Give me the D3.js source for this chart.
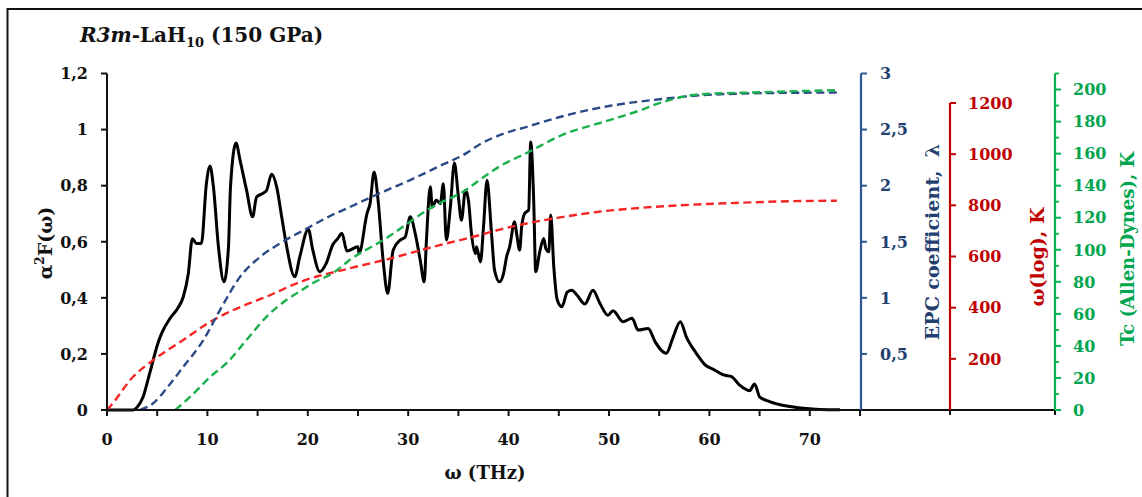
<!DOCTYPE html>
<html><head><meta charset="utf-8">
<script src="https://cdn.jsdelivr.net/npm/d3@7"></script>
<style>
html,body{margin:0;padding:0;background:#fff;}
svg{display:block;font-family:"DejaVu Serif",serif;font-weight:bold;}
</style></head>
<body>
<svg id="chart" width="1142" height="497"></svg>
<script>
// ---------- data ----------
const a2fFreq = [0,2.6,3.0,3.6,4.1,4.6,5.0,5.45,6.3,7.0,7.6,8.1,8.5,8.9,9.4,9.9,10.26,10.6,11.1,11.65,12.1,12.3,12.85,13.25,13.9,14.5,14.9,15.6,15.9,16.4,16.9,17.4,17.9,18.7,19.2,20.05,20.5,21.2,21.8,22.5,23.0,23.4,23.9,25.0,25.1,25.9,26.2,26.6,27.0,27.5,27.96,28.5,29.2,29.7,30.2,30.7,31.2,31.6,31.8,32.2,32.4,32.8,33.2,33.5,33.8,34.2,34.6,35.0,35.3,35.7,36.0,36.3,36.7,36.8,37.2,37.5,37.85,38.3,38.6,39.1,39.5,39.8,40.1,40.6,40.8,41.1,41.3,41.6,42.0,42.2,42.5,42.7,43.1,43.5,43.7,44.0,44.2,44.5,44.85,45.3,45.85,46.3,46.8,47.6,48.4,49.1,49.9,50.4,51.4,52.3,52.9,53.9,54.6,55.7,56.4,57.1,57.7,58.7,59.6,60.4,61.4,62.2,63.0,64.0,64.5,65.0,66.0,67.7,69.4,71.0,73.0];
const a2fValue = [0,0,0.01,0.047,0.11,0.178,0.23,0.274,0.328,0.36,0.404,0.487,0.611,0.594,0.594,0.807,0.870,0.796,0.582,0.457,0.582,0.796,0.952,0.891,0.784,0.689,0.760,0.774,0.784,0.841,0.796,0.689,0.582,0.475,0.546,0.645,0.570,0.493,0.52,0.59,0.612,0.630,0.567,0.582,0.558,0.701,0.736,0.849,0.748,0.534,0.416,0.570,0.606,0.617,0.689,0.629,0.534,0.457,0.594,0.796,0.724,0.748,0.736,0.807,0.606,0.724,0.881,0.760,0.677,0.784,0.748,0.629,0.558,0.582,0.528,0.653,0.819,0.629,0.499,0.457,0.487,0.546,0.582,0.671,0.629,0.570,0.653,0.701,0.713,0.956,0.748,0.493,0.564,0.612,0.576,0.564,0.695,0.511,0.392,0.368,0.421,0.427,0.410,0.378,0.427,0.380,0.338,0.354,0.315,0.327,0.285,0.291,0.243,0.202,0.261,0.315,0.261,0.202,0.160,0.145,0.125,0.119,0.089,0.069,0.093,0.047,0.030,0.014,0.006,0.002,0.001];

const lambdaFreq  = [3.3,4.6,6.0,7.6,9.6,11.25,13.25,15.25,17.2,19.9,22.0,24.2,26.0,28.0,30.2,33.0,35.8,37.15,39.1,42.0,45.0,50.0,55.0,59.0,63.0,68.0,72.7];
const lambdaValue = [0,0.06,0.2,0.386,0.623,0.89,1.187,1.365,1.484,1.618,1.72,1.81,1.885,1.965,2.05,2.17,2.29,2.37,2.45,2.53,2.61,2.71,2.77,2.805,2.82,2.828,2.83];

const wlogFreq  = [0,0.3,2.6,4.6,7.6,10.3,12.6,15.9,19.2,24.2,28.0,32.5,37.15,39.1,45.0,49.0,53.1,58.0,63.0,68.0,72.7];
const wlogValue = [0,13,130,195,274,345,391,443,500,554,590,638,684,705,752,775,790,802,810,816,818];

const tcFreq  = [6.8,8.3,10.3,11.9,13.9,15.9,17.9,19.2,20.5,22.5,24.2,27.5,32.5,35.8,37.15,39.1,42.0,45.1,50.1,53.1,55.1,59.1,65.0,72.7];
const tcValue = [0,8.3,20.8,29.2,43.75,58.3,68.75,74,79.2,85.4,93.75,106,127,137.5,143.75,152,161,171,181,187,191.7,197,198.3,199.6];

const xTicks      = [0,5,10,15,20,25,30,35,40,45,50,55,60,65,70,75];
const xTickLabels = [0,10,20,30,40,50,60,70];
const leftTicks   = [0,0.2,0.4,0.6,0.8,1,1.2];
const lambdaTicks = [0.5,1,1.5,2,2.5,3];
const wlogTicks   = [200,400,600,800,1000,1200];
const tcTicks     = [0,20,40,60,80,100,120,140,160,180,200];
const tcMinorTicks= [10,30,50,70,90,110,130,150,170,190,210];

// ---------- setup ----------
const svg = d3.select("#chart");
const loc = d3.formatLocale({decimal:",",thousands:".",grouping:[3],currency:["",""]});
const fmt = loc.format("~g");

const x  = d3.scaleLinear().domain([0,75]).range([107,860]);
const yL = d3.scaleLinear().domain([0,1.2]).range([410,73.5]);
const yB = d3.scaleLinear().domain([0,3]).range([410,73.5]);
const yR = d3.scaleLinear().domain([0,1200]).range([410,103]);
const yG = d3.scaleLinear().domain([0,210]).range([410,73.5]);

const C = {black:"#000", blueLine:"#2F5597", blueDash:"#2A4A85", blueText:"#233F70",
  redLine:"#C00000", redDash:"#F52525", redText:"#C00000",
  greenLine:"#00B050", greenDash:"#1BB04E", greenText:"#00A54F"};

// frame
svg.append("rect").attr("x",7.5).attr("y",9).attr("width",1300).attr("height",600)
  .attr("fill","none").attr("stroke","#111").attr("stroke-width",2);

// title
const t = svg.append("text").attr("x",80).attr("y",42).attr("font-size",20).attr("fill","#111");
t.append("tspan").attr("font-style","italic").text("R3m");
t.append("tspan").text("-LaH");
t.append("tspan").attr("font-size",13).attr("dy",5).text("10");
t.append("tspan").attr("dy",-5).text(" (150 GPa)");

// series
function drawLine(xs, ys, yScale, color, width, dash){
  const data = xs.map((d,i)=>[d, ys[i]]);
  const line = d3.line().x(d=>x(d[0])).y(d=>yScale(d[1])).curve(d3.curveMonotoneX);
  const p = svg.append("path").datum(data).attr("d",line).attr("fill","none")
    .attr("stroke",color).attr("stroke-width",width).attr("stroke-linejoin","round");
  if(dash) p.attr("stroke-dasharray",dash);
}
drawLine(a2fFreq, a2fValue, yL, C.black, 3, null);
drawLine(wlogFreq, wlogValue, yR, C.redDash, 2.4, "8,4.5");
drawLine(lambdaFreq, lambdaValue, yB, C.blueDash, 2.4, "8,4.5");
drawLine(tcFreq, tcValue, yG, C.greenDash, 2.4, "8,4.5");

// x axis
svg.append("line").attr("x1",106).attr("x2",1056).attr("y1",410).attr("y2",410)
  .attr("stroke","#111").attr("stroke-width",2.2);
svg.selectAll(".xt").data(xTicks).join("line")
  .attr("x1",d=>x(d)).attr("x2",d=>x(d)).attr("y1",410).attr("y2",416)
  .attr("stroke","#111").attr("stroke-width",2);
[950,1055].forEach(px=>svg.append("line").attr("x1",px).attr("x2",px).attr("y1",410).attr("y2",415)
  .attr("stroke","#111").attr("stroke-width",2));
svg.selectAll(".xl").data(xTickLabels).join("text")
  .attr("x",d=>x(d)).attr("y",445).attr("text-anchor","middle").attr("font-size",16)
  .attr("fill","#111").text(d=>fmt(d));
svg.append("text").attr("x",485).attr("y",479).attr("text-anchor","middle")
  .attr("font-size",18).attr("fill","#111").text("ω (THz)");

// left axis
svg.append("line").attr("x1",107).attr("x2",107).attr("y1",yL(1.2)).attr("y2",410)
  .attr("stroke","#111").attr("stroke-width",2);
svg.selectAll(".lt").data(leftTicks).join("line")
  .attr("x1",101).attr("x2",107).attr("y1",d=>yL(d)).attr("y2",d=>yL(d))
  .attr("stroke","#111").attr("stroke-width",2);
svg.selectAll(".ll").data(leftTicks).join("text")
  .attr("x",88).attr("y",d=>yL(d)).attr("dy","0.36em").attr("text-anchor","end")
  .attr("font-size",16).attr("fill","#111").text(d=>fmt(d));
const lt = svg.append("text").attr("transform","translate(52,243) rotate(-90)")
  .attr("text-anchor","middle").attr("font-size",19).attr("fill","#111");
lt.append("tspan").text("α");
lt.append("tspan").attr("font-size",12).attr("dy",-8).text("2");
lt.append("tspan").attr("dy",8).text("F(ω)");

// blue axis (lambda)
svg.append("line").attr("x1",861).attr("x2",861).attr("y1",yB(3)).attr("y2",410)
  .attr("stroke",C.blueLine).attr("stroke-width",2.2);
svg.selectAll(".bt").data(lambdaTicks).join("line")
  .attr("x1",861).attr("x2",867).attr("y1",d=>yB(d)).attr("y2",d=>yB(d))
  .attr("stroke",C.blueLine).attr("stroke-width",2);
svg.selectAll(".bl").data(lambdaTicks).join("text")
  .attr("x",880).attr("y",d=>yB(d)).attr("dy","0.36em").attr("font-size",16)
  .attr("fill",C.blueText).text(d=>fmt(d));
svg.append("text").attr("transform","translate(932,242) rotate(-90)")
  .attr("text-anchor","middle").attr("dy","0.35em").attr("font-size",19)
  .attr("fill",C.blueText).attr("xml:space","preserve").text("EPC coefficient,  λ");

// red axis (omega log)
svg.append("line").attr("x1",950).attr("x2",950).attr("y1",yR(1200)).attr("y2",410)
  .attr("stroke",C.redLine).attr("stroke-width",2.2);
svg.selectAll(".rt").data(wlogTicks).join("line")
  .attr("x1",950).attr("x2",956).attr("y1",d=>yR(d)).attr("y2",d=>yR(d))
  .attr("stroke",C.redLine).attr("stroke-width",2);
svg.selectAll(".rl").data(wlogTicks).join("text")
  .attr("x",968).attr("y",d=>yR(d)).attr("dy","0.36em").attr("font-size",16)
  .attr("fill",C.redText).text(d=>d3.format("d")(d));
svg.append("text").attr("transform","translate(1037,257) rotate(-90)")
  .attr("text-anchor","middle").attr("dy","0.35em").attr("font-size",19)
  .attr("fill",C.redText).text("ω(log), K");

// green axis (Tc)
svg.append("line").attr("x1",1055).attr("x2",1055).attr("y1",yG(210)).attr("y2",410)
  .attr("stroke",C.greenLine).attr("stroke-width",2.2);
svg.selectAll(".gt").data(tcTicks).join("line")
  .attr("x1",1055).attr("x2",1061).attr("y1",d=>yG(d)).attr("y2",d=>yG(d))
  .attr("stroke",C.greenLine).attr("stroke-width",2);
svg.selectAll(".gm").data(tcMinorTicks).join("line")
  .attr("x1",1055).attr("x2",1059).attr("y1",d=>yG(d)).attr("y2",d=>yG(d))
  .attr("stroke",C.greenLine).attr("stroke-width",1.8);
svg.selectAll(".gl").data(tcTicks).join("text")
  .attr("x",1073).attr("y",d=>yG(d)).attr("dy","0.36em").attr("font-size",16)
  .attr("fill",C.greenText).text(d=>d);
svg.append("text").attr("transform","translate(1128,249) rotate(-90)")
  .attr("text-anchor","middle").attr("dy","0.35em").attr("font-size",18)
  .attr("fill",C.greenText).text("Tc (Allen-Dynes), K");
</script>
</body></html>
